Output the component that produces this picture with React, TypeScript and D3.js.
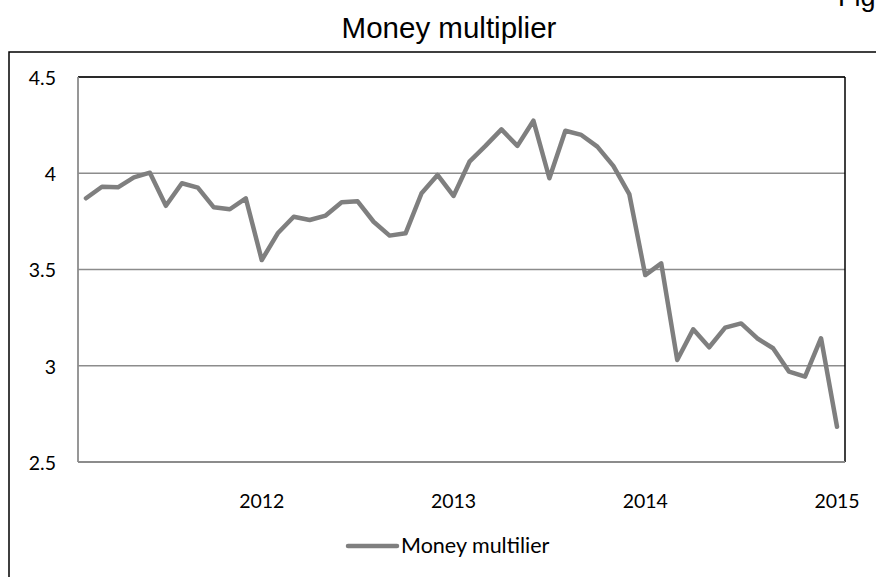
import React from "react";
import * as d3 from "d3";

const months: string[] = [
  "2011-02","2011-03","2011-04","2011-05","2011-06","2011-07","2011-08","2011-09","2011-10","2011-11","2011-12",
  "2012-01","2012-02","2012-03","2012-04","2012-05","2012-06","2012-07","2012-08","2012-09","2012-10","2012-11","2012-12",
  "2013-01","2013-02","2013-03","2013-04","2013-05","2013-06","2013-07","2013-08","2013-09","2013-10","2013-11","2013-12",
  "2014-01","2014-02","2014-03","2014-04","2014-05","2014-06","2014-07","2014-08","2014-09","2014-10","2014-11","2014-12",
  "2015-01",
];

const multiplier: number[] = [
  3.87, 3.93, 3.927, 3.979, 4.003, 3.831, 3.948, 3.925, 3.823, 3.813, 3.87,
  3.549, 3.688, 3.774, 3.757, 3.78, 3.849, 3.854, 3.748, 3.676, 3.688, 3.896,
  3.991, 3.882, 4.06, 4.142, 4.228, 4.142, 4.273, 3.974, 4.221, 4.199, 4.138,
  4.038, 3.892, 3.471, 3.532, 3.03, 3.189, 3.096, 3.198, 3.22, 3.143, 3.091,
  2.969, 2.943, 3.143, 2.683,
];

const yTicks: number[] = [2.5, 3, 3.5, 4, 4.5];
const xTickLabels: string[] = ["2012", "2013", "2014", "2015"];

const title = "Money multiplier";
const legendLabel = "Money multilier";
const cornerText = "Figure 1";

const W = 876;
const H = 577;
const plot = { left: 78, right: 845, top: 77, bottom: 462 };

export default function App() {
  const x = d3
    .scaleBand<string>()
    .domain(months)
    .range([plot.left, plot.right])
    .paddingInner(0)
    .paddingOuter(0);
  const y = d3.scaleLinear().domain([2.5, 4.5]).range([plot.bottom, plot.top]);
  const cx = (m: string) => (x(m) ?? 0) + x.bandwidth() / 2;

  const line = d3
    .line<number>()
    .x((_, i) => cx(months[i]))
    .y((d) => y(d));

  const labelFont = "Lato, 'Open Sans', sans-serif";
  const titleFont = "'Liberation Sans', Arial, sans-serif";

  return (
    <div style={{ position: "absolute", left: 0, top: 0 }}>
      <svg width={W} height={H} style={{ display: "block", background: "#fff" }}>
        <rect x={0} y={0} width={W} height={H} fill="#fff" />
        <text x={838} y={6} fontFamily={titleFont} fontSize={27} fill="#000">
          {cornerText}
        </text>
        <rect x={9} y={52} width={1000} height={800} fill="none" stroke="#000" strokeWidth={1.5} />
        <text
          x={449}
          y={37.5}
          textAnchor="middle"
          fontFamily={titleFont}
          fontSize={29.5}
          fill="#000"
        >
          {title}
        </text>

        {yTicks.map((t) => (
          <g key={t}>
            <line
              x1={plot.left}
              x2={plot.right}
              y1={y(t)}
              y2={y(t)}
              stroke="#8c8c8c"
              strokeWidth={1.5}
            />
            <text
              x={56}
              y={y(t)}
              dy="0.4em"
              textAnchor="end"
              fontFamily={labelFont}
              fontSize={19.5}
              fill="#000"
            >
              {t}
            </text>
          </g>
        ))}

        <line x1={plot.left} x2={plot.right} y1={plot.top} y2={plot.top} stroke="#000" strokeWidth={1.5} />
        <line x1={plot.right} x2={plot.right} y1={plot.top} y2={plot.bottom} stroke="#000" strokeWidth={1.5} />
        <line x1={plot.left} x2={plot.left} y1={plot.top} y2={plot.bottom} stroke="#8c8c8c" strokeWidth={1.8} />
        <line x1={plot.left} x2={plot.right} y1={plot.bottom} y2={plot.bottom} stroke="#8c8c8c" strokeWidth={1.8} />

        {xTickLabels.map((lab) => (
          <text
            key={lab}
            x={cx(`${lab}-01`)}
            y={508}
            textAnchor="middle"
            fontFamily={labelFont}
            fontSize={19.5}
            fill="#000"
          >
            {lab}
          </text>
        ))}

        <path
          d={line(multiplier) ?? ""}
          fill="none"
          stroke="#7f7f7f"
          strokeWidth={4.5}
          strokeLinejoin="round"
          strokeLinecap="round"
        />

        <line x1={348} x2={397} y1={546} y2={546} stroke="#7f7f7f" strokeWidth={4.5} strokeLinecap="round" />
        <text x={401} y={553} fontFamily={labelFont} fontSize={21.5} fill="#000">
          {legendLabel}
        </text>
      </svg>
    </div>
  );
}
